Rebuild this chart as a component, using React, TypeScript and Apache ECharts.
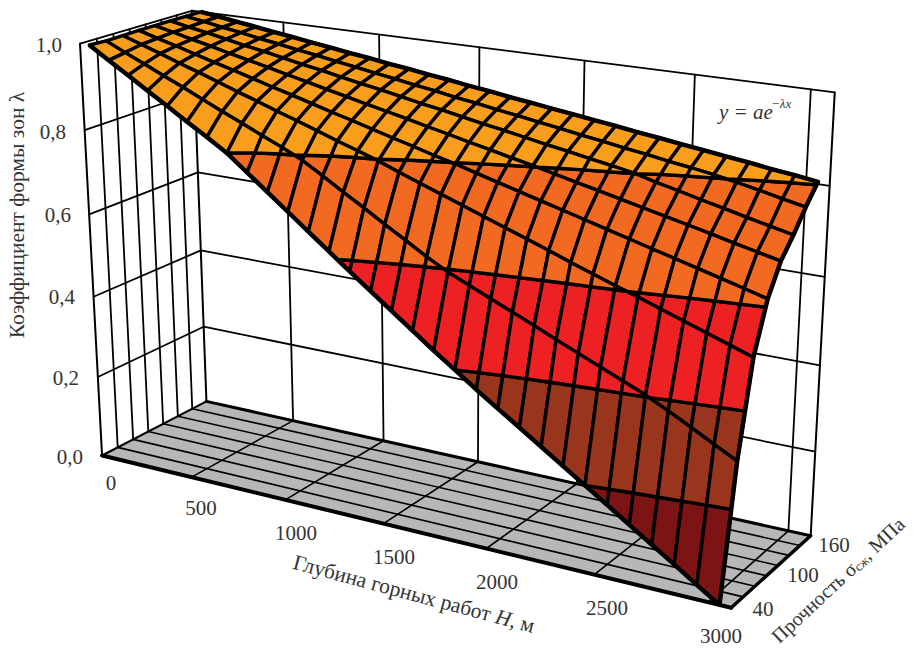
import React, { useEffect, useRef } from "react";
import * as echarts from "echarts";

const depthTickLabels = ["0", "500", "1000", "1500", "2000", "2500", "3000"];
const strengthTickLabels = ["40", "100", "160"];
const lambdaTickLabels = ["0,0", "0,2", "0,4", "0,6", "0,8", "1,0"];
const lambdaTicks = [0, 0.2, 0.4, 0.6, 0.8, 1];
const bandColors = ["#7c1416", "#9a351d", "#ed2024", "#f26a21", "#f99d1c"];

// λ, one list per strength row (front to back), 31 depths (0…3000 m, step 100)
const row0 = [1.0, 0.971, 0.943, 0.914, 0.886, 0.857, 0.829, 0.8, 0.763, 0.726, 0.689, 0.652, 0.615, 0.578, 0.542, 0.506, 0.47, 0.434, 0.4, 0.365, 0.332, 0.299, 0.266, 0.233, 0.2, 0.167, 0.133, 0.1, 0.067, 0.033, 0.0];
const row1 = [0.998, 0.977, 0.957, 0.936, 0.916, 0.895, 0.874, 0.854, 0.833, 0.813, 0.791, 0.763, 0.734, 0.706, 0.677, 0.649, 0.62, 0.594, 0.573, 0.552, 0.531, 0.51, 0.488, 0.467, 0.446, 0.425, 0.404, 0.379, 0.353, 0.326, 0.3];
const row2 = [0.999, 0.984, 0.969, 0.953, 0.938, 0.922, 0.906, 0.891, 0.875, 0.86, 0.844, 0.828, 0.813, 0.797, 0.779, 0.762, 0.745, 0.728, 0.711, 0.694, 0.677, 0.66, 0.642, 0.625, 0.608, 0.592, 0.575, 0.558, 0.541, 0.524, 0.507];
const row3 = [1.0, 0.987, 0.975, 0.962, 0.949, 0.937, 0.924, 0.911, 0.899, 0.886, 0.873, 0.861, 0.848, 0.835, 0.823, 0.81, 0.798, 0.785, 0.772, 0.759, 0.746, 0.733, 0.72, 0.707, 0.694, 0.681, 0.668, 0.655, 0.642, 0.629, 0.615];
const row4 = [1.0, 0.99, 0.979, 0.969, 0.958, 0.948, 0.938, 0.927, 0.917, 0.906, 0.896, 0.885, 0.875, 0.865, 0.854, 0.844, 0.833, 0.823, 0.812, 0.802, 0.791, 0.78, 0.769, 0.758, 0.747, 0.736, 0.725, 0.714, 0.702, 0.691, 0.68];
const row5 = [1.0, 0.991, 0.983, 0.974, 0.965, 0.957, 0.948, 0.939, 0.931, 0.922, 0.913, 0.905, 0.896, 0.887, 0.879, 0.87, 0.861, 0.853, 0.844, 0.835, 0.827, 0.818, 0.81, 0.801, 0.788, 0.777, 0.765, 0.754, 0.742, 0.731, 0.72];
const row6 = [1.0, 0.993, 0.985, 0.978, 0.97, 0.963, 0.955, 0.948, 0.94, 0.933, 0.925, 0.918, 0.91, 0.903, 0.895, 0.888, 0.88, 0.873, 0.865, 0.858, 0.85, 0.843, 0.835, 0.828, 0.82, 0.813, 0.805, 0.796, 0.786, 0.775, 0.765];
const row7 = [1.0, 0.994, 0.987, 0.981, 0.974, 0.968, 0.961, 0.955, 0.948, 0.942, 0.935, 0.929, 0.922, 0.916, 0.909, 0.903, 0.896, 0.89, 0.883, 0.877, 0.87, 0.864, 0.857, 0.851, 0.844, 0.838, 0.831, 0.825, 0.818, 0.812, 0.805];
const surfaceRows = [row0, row1, row2, row3, row4, row5, row6, row7];

// ---- layout: camera calibration of the box (u along depth, v along strength, w = λ) ----
const N_U = 31;
const N_V = 7;
const T = 5 / N_U;
const cameraAnchors: number[][] = [
  [0, 0, 0, 100, 457], [1, 0, 0, 730, 609], [0, 1, 0, 207, 401], [1, 1, 0, 812, 535],
  [0, 0, 1, 80, 43], [0, 1, 1, 192, 12], [1, 1, 1, 836, 92],
  [0, 0, 0.8, 85, 129], [0, 0, 0.6, 90, 214], [0, 0, 0.4, 94, 297], [0, 0, 0.2, 97, 378],
  [1, 1, 0.8, 829, 185], [1, 1, 0.6, 824, 277], [1, 1, 0.4, 819, 367], [1, 1, 0.2, 815, 452],
  [0, 1, 0.6, 197, 173],
  [T, 0, 0, 193, 477], [2 * T, 0, 0, 286, 500], [3 * T, 0, 0, 385, 523], [4 * T, 0, 0, 487, 547], [5 * T, 0, 0, 595, 573], [6 * T, 0, 0, 703, 602],
  [T, 1, 0, 293, 420], [2 * T, 1, 0, 383, 440], [3 * T, 1, 0, 477, 461], [4 * T, 1, 0, 577, 485], [6 * T, 1, 0, 790, 530],
  [0.5 / N_U, 0, 1, 89, 45], [30.5 / N_U, 0, 0, 722, 607],
];

function fitCamera(): number[] {
  const n = 11;
  const A: number[][] = Array.from({ length: n }, () => new Array(n + 1).fill(0));
  const add = (r: number[], b: number) => {
    for (let i = 0; i < n; i++) {
      for (let j = 0; j < n; j++) A[i][j] += r[i] * r[j];
      A[i][n] += r[i] * b;
    }
  };
  for (const [u, v, w, px, py] of cameraAnchors) {
    const x = px / 1000, y = py / 1000;
    add([u, v, w, 1, 0, 0, 0, 0, -x * u, -x * v, -x * w], x);
    add([0, 0, 0, 0, u, v, w, 1, -y * u, -y * v, -y * w], y);
  }
  for (let c = 0; c < n; c++) {
    let p = c;
    for (let r = c + 1; r < n; r++) if (Math.abs(A[r][c]) > Math.abs(A[p][c])) p = r;
    [A[c], A[p]] = [A[p], A[c]];
    for (let r = 0; r < n; r++) {
      if (r === c) continue;
      const f = A[r][c] / A[c][c];
      for (let k = c; k <= n; k++) A[r][k] -= f * A[c][k];
    }
  }
  return A.map((row, i) => row[n] / row[i]);
}
const cam = fitCamera();
function project(u: number, v: number, w: number): number[] {
  const d = cam[8] * u + cam[9] * v + cam[10] * w + 1;
  return [
    (1000 * (cam[0] * u + cam[1] * v + cam[2] * w + cam[3])) / d,
    (1000 * (cam[4] * u + cam[5] * v + cam[6] * w + cam[7])) / d,
  ];
}

type P3 = number[];
function clipAt(poly: P3[], level: number, keepAbove: boolean): P3[] {
  const out: P3[] = [];
  const inside = (p: P3) => (keepAbove ? p[2] >= level : p[2] <= level);
  for (let k = 0; k < poly.length; k++) {
    const a = poly[k], b = poly[(k + 1) % poly.length];
    if (inside(a)) out.push(a);
    if (inside(a) !== inside(b)) {
      const t = (level - a[2]) / (b[2] - a[2]);
      out.push([a[0] + t * (b[0] - a[0]), a[1] + t * (b[1] - a[1]), level]);
    }
  }
  return out;
}

const uOf = (i: number) => (i + 0.5) / N_U;
const vOf = (j: number) => j / N_V;

// cells, painted back to front
const cellIndex: number[][] = [];
for (let j = surfaceRows.length - 2; j >= 0; j--) {
  for (let i = 0; i < row0.length - 1; i++) cellIndex.push([i, j]);
}

const LINE = "#000";
const TEXT = "#333";
const SERIF = '"Liberation Serif", "Times New Roman", serif';

const depthLabelPos = [[111, 483], [201, 508], [296, 533], [394, 557], [497, 582], [607, 608], [721, 636]];
const strengthLabelPos = [[763, 609], [803, 575], [834, 545]];
const lambdaLabelPos = [[83, 457], [79, 378], [75, 297], [71, 215], [66, 132], [62, 45]];

export default function App() {
  const ref = useRef<HTMLDivElement>(null);
  useEffect(() => {
    const chart = echarts.init(ref.current!, undefined, { renderer: "svg" });

    const renderFrame = (_: any, api: any) => {
      const c = (p: number[]) => api.coord(p);
      const pt = (u: number, v: number, w: number) => c(project(u, v, w));
      const line = (a: number[], b: number[], lw: number) => ({
        type: "line",
        shape: { x1: a[0], y1: a[1], x2: b[0], y2: b[1] },
        style: { stroke: LINE, lineWidth: lw, lineCap: "round" },
      });
      const kids: any[] = [];
      kids.push({
        type: "polygon",
        shape: { points: [pt(0, 0, 0), pt(1, 0, 0), pt(1, 1, 0), pt(0, 1, 0)] },
        style: { fill: "#b7b7b7", stroke: "none" },
      });
      for (let k = 1; k < N_V; k++) kids.push(line(pt(0, k / N_V, 0), pt(1, k / N_V, 0), 1.6));
      for (let k = 1; k <= 6; k++) {
        kids.push(line(pt(k * T, 0, 0), pt(k * T, 1, 0), 1.6));
        kids.push(line(pt(k * T, 1, 0), pt(k * T, 1, 1), 1.8));
      }
      for (let k = 1; k < N_V; k++) kids.push(line(pt(0, k / N_V, 0), pt(0, k / N_V, 1), 1.8));
      for (const w of lambdaTicks.slice(1)) {
        kids.push(line(pt(0, 0, w), pt(0, 1, w), 1.8));
        kids.push(line(pt(0, 1, w), pt(1, 1, w), 1.8));
      }
      kids.push(line(pt(0, 0, 0), pt(0, 0, 1), 2));
      kids.push(line(pt(0, 1, 0), pt(0, 1, 1), 2));
      kids.push(line(pt(1, 1, 0), pt(1, 1, 1), 2));
      kids.push(line(pt(0, 0, 0), pt(1, 0, 0), 4));
      kids.push(line(pt(1, 0, 0), pt(1, 1, 0), 3.4));
      kids.push(line(pt(0, 1, 0), pt(1, 1, 0), 3));
      kids.push(line(pt(0, 0, 0), pt(0, 1, 0), 2));
      return { type: "group", children: kids };
    };

    const renderCell = (_: any, api: any) => {
      const i = api.value(0), j = api.value(1);
      const quad: P3[] = [
        [uOf(i), vOf(j), surfaceRows[j][i]],
        [uOf(i + 1), vOf(j), surfaceRows[j][i + 1]],
        [uOf(i + 1), vOf(j + 1), surfaceRows[j + 1][i + 1]],
        [uOf(i), vOf(j + 1), surfaceRows[j + 1][i]],
      ];
      const kids: any[] = [];
      bandColors.forEach((color, b) => {
        const lo = lambdaTicks[b], hi = lambdaTicks[b + 1];
        let poly = clipAt(quad, lo, true);
        if (poly.length >= 3) poly = clipAt(poly, hi + (b === bandColors.length - 1 ? 1 : 0), false);
        if (poly.length < 3) return;
        kids.push({
          type: "polygon",
          shape: { points: poly.map((p) => api.coord(project(p[0], p[1], p[2]))) },
          style: { fill: color, stroke: LINE, lineWidth: 3.4, lineJoin: "round" },
        });
      });
      return { type: "group", children: kids };
    };

    const renderOutline = (_: any, api: any) => {
      const pts: number[][] = [];
      row7.forEach((l, i) => pts.push(api.coord(project(uOf(i), vOf(7), l))));
      for (let j = 7; j >= 0; j--) pts.push(api.coord(project(uOf(30), vOf(j), surfaceRows[j][30])));
      for (let i = 30; i >= 0; i--) pts.push(api.coord(project(uOf(i), vOf(0), row0[i])));
      return {
        type: "polyline",
        shape: { points: pts },
        style: { fill: "none", stroke: LINE, lineWidth: 4.4, lineJoin: "round" },
      };
    };

    const tick = (text: string, p: number[], align = "center") => ({
      type: "text",
      x: p[0],
      y: p[1],
      silent: true,
      style: { text, fill: TEXT, font: `21px ${SERIF}`, align, verticalAlign: "middle" },
    });

    chart.setOption({
      animation: false,
      backgroundColor: "#fff",
      grid: { left: 0, right: 0, top: 0, bottom: 0 },
      xAxis: { type: "value", min: 0, max: 914, show: false },
      yAxis: { type: "value", min: 0, max: 654, inverse: true, show: false },
      series: [
        { type: "custom", coordinateSystem: "cartesian2d", clip: false, silent: true, data: [[0, 0]], renderItem: renderFrame, z: 1 },
        { type: "custom", coordinateSystem: "cartesian2d", clip: false, silent: true, data: cellIndex, renderItem: renderCell, z: 2 },
        { type: "custom", coordinateSystem: "cartesian2d", clip: false, silent: true, data: [[0, 0]], renderItem: renderOutline, z: 3 },
      ],
      graphic: [
        ...depthTickLabels.map((t, k) => tick(t, depthLabelPos[k])),
        ...strengthTickLabels.map((t, k) => tick(t, strengthLabelPos[k])),
        ...lambdaTickLabels.map((t, k) => tick(t, lambdaLabelPos[k], "right")),
        {
          type: "text", x: 17, y: 215, rotation: Math.PI / 2, silent: true,
          style: { text: "Коэффициент формы зон λ", fill: TEXT, font: `21.5px ${SERIF}`, align: "center", verticalAlign: "middle" },
        },
        {
          type: "text", x: 414, y: 594, rotation: (-15 * Math.PI) / 180, silent: true,
          style: {
            text: "Глубина горных работ {i|H}, м", fill: TEXT, font: `21.5px ${SERIF}`, align: "center", verticalAlign: "middle",
            rich: { i: { font: `italic 21.5px ${SERIF}`, fill: TEXT } },
          },
        },
        {
          type: "text", x: 838, y: 580, rotation: (43 * Math.PI) / 180, silent: true,
          style: {
            text: "Прочность σ{s|сж}, МПа", fill: TEXT, font: `20px ${SERIF}`, align: "center", verticalAlign: "middle",
            rich: { s: { font: `13px ${SERIF}`, fill: TEXT, verticalAlign: "bottom", padding: [8, 0, 0, 0] } },
          },
        },
        {
          type: "text", x: 719, y: 112, silent: true,
          style: { text: "y = ae", fill: TEXT, font: `italic 21px ${SERIF}`, align: "left", verticalAlign: "middle" },
        },
        {
          type: "text", x: 771, y: 103, silent: true,
          style: { text: "−λx", fill: TEXT, font: `italic 13px ${SERIF}`, align: "left", verticalAlign: "middle" },
        },
      ],
    });
    return () => chart.dispose();
  }, []);
  return <div ref={ref} style={{ position: "absolute", left: 0, top: 0, width: 914, height: 654 }} />;
}
